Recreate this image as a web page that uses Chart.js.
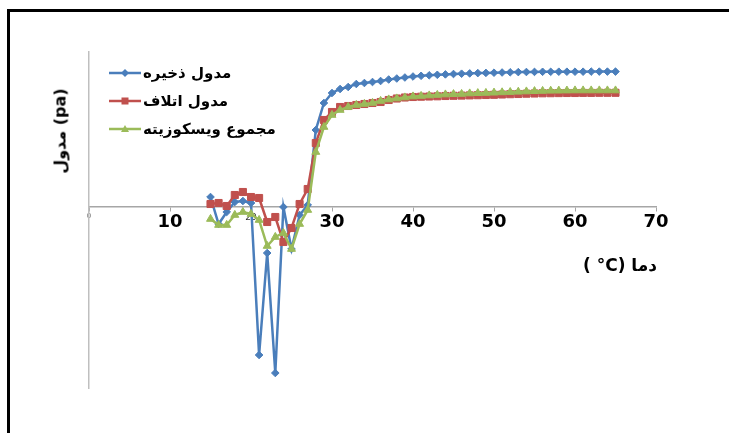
<!DOCTYPE html>
<html>
<head>
<meta charset="utf-8">
<script src="https://cdn.jsdelivr.net/npm/chart.js@4.4.1/dist/chart.umd.min.js"></script>
<style>
  html, body { margin: 0; padding: 0; background: #fff; }
  #wrap { position: relative; width: 729px; height: 433px; overflow: hidden; background: #fff; }
  #frameTop { position: absolute; left: 7px; top: 9px; width: 722px; height: 3px; background: #000; }
  #frameLeft { position: absolute; left: 7px; top: 9px; width: 3px; height: 424px; background: #000; }
  canvas { position: absolute; left: 0; top: 0; }
  .t { position: absolute; font-family: 'DejaVu Sans'; font-weight: bold; font-size: 16px; color: #000; white-space: nowrap; }
  .sw { position: absolute; }
</style>
</head>
<body>
<div id="wrap">
  <div id="frameTop"></div>
  <div id="frameLeft"></div>
  <canvas id="c" width="729" height="433"></canvas>
</div>
<script>
// ---- data ----
const temps = [15,16,17,18,19,20,21,22,23,24,25,26,27,28,29,30,31,32,33,34,35,36,37,38,39,40,
               41,42,43,44,45,46,47,48,49,50,51,52,53,54,55,56,57,58,59,60,61,62,63,64,65];
const storageModulus = [100,-170,-50,50,60,40,-1480,-460,-1660,0,-420,-80,20,770,1040,1140,1180,1200,1230,1240,1250,1260,1275,1285,1295,1305,
               1312,1317,1322,1326,1330,1333,1336,1339,1341,1343,1345,1347,1349,1350,1351,1352,1352,1353,1353,1353,1353,1354,1354,1354,1354];
const lossModulus = [30,40,10,120,150,100,90,-150,-100,-350,-210,30,180,640,870,950,1000,1010,1020,1030,1040,1050,1070,1085,1095,1100,
               1103,1105,1107,1110,1112,1114,1116,1118,1120,1122,1125,1128,1130,1133,1135,1137,1138,1139,1140,1140,1141,1141,1142,1142,1142];
const viscositySum = [-120,-180,-180,-80,-50,-70,-130,-390,-300,-260,-420,-170,-30,550,800,920,970,1000,1020,1030,1040,1060,1075,1085,1095,1105,
               1110,1115,1120,1125,1128,1130,1135,1138,1140,1143,1146,1149,1152,1155,1158,1160,1162,1163,1164,1165,1165,1165,1165,1165,1165];
const seriesLabels = ["مدول ذخیره", "مدول اتلاف", "مجموع ویسکوزیته"];
const xTickValues = [0,10,20,30,40,50,60,70];
const xTitle = "( °C) دما";
const yTitle = "مدول (pa)";

const colors = ["#4A7EBB", "#C0504D", "#9BBB59"];
const markers = ["rectRot", "rect", "triangle"];
const radii = [3.8, 5, 4.6];
const seriesData = [storageModulus, lossModulus, viscositySum];

const datasets = seriesData.map((arr, k) => ({
  label: seriesLabels[k],
  data: temps.map((t, i) => ({ x: t, y: arr[i] })),
  borderColor: colors[k],
  backgroundColor: colors[k],
  pointBackgroundColor: colors[k],
  pointBorderColor: colors[k],
  pointStyle: markers[k],
  pointRadius: radii[k],
  pointBorderWidth: 1,
  borderWidth: 2.5,
  tension: 0,
  order: 3 - k
}));

new Chart(document.getElementById('c'), {
  type: 'line',
  data: { datasets },
  options: {
    responsive: false,
    animation: false,
    devicePixelRatio: 1,
    layout: { padding: { left: 89, right: 73, top: 52, bottom: 45 } },
    plugins: { legend: { display: false }, tooltip: { enabled: false } },
    scales: {
      x: {
        type: 'linear',
        position: { y: 0 },
        min: 0, max: 70,
        afterBuildTicks: s => { s.ticks = xTickValues.map(v => ({ value: v })); },
        grid: { display: true, drawOnChartArea: false, drawTicks: true, tickLength: 4, color: '#A6A6A6', lineWidth: 1 },
        border: { display: true, color: '#A6A6A6', width: 1.5 },
        ticks: {
          padding: 1,
          maxRotation: 0,
          autoSkip: false,
          color: ctx => (ctx.tick && ctx.tick.value === 0) ? '#777' : (ctx.tick && ctx.tick.value === 20 ? '#333' : '#000'),
          font: ctx => {
            const v = ctx.tick ? ctx.tick.value : null;
            if (v === 0) return { family: 'DejaVu Sans', size: 7 };
            if (v === 20) return { family: 'DejaVu Sans', size: 9 };
            return { family: 'DejaVu Sans', size: 18, weight: 'bold' };
          }
        }
      },
      y: {
        type: 'linear',
        position: 'left',
        min: -1810, max: 1550,
        afterFit: s => { s.width = 0; },
        grid: { display: false },
        border: { display: true, color: '#BFBFBF', width: 1.5 },
        ticks: { display: false }
      }
    }
  }
});

// HTML legend and titles (real text)
const wrap = document.getElementById('wrap');
seriesLabels.forEach((lab, k) => {
  const cy = 72 + 28 * k;
  const sw = document.createElement('div');
  sw.className = 'sw';
  sw.style.left = '108px';
  sw.style.top = (cy - 6) + 'px';
  let mk = '';
  if (k === 0) mk = '<polygon points="17,3 21,7 17,11 13,7" fill="' + colors[0] + '"/>';
  if (k === 1) mk = '<rect x="13.5" y="3.5" width="7" height="7" fill="' + colors[1] + '"/>';
  if (k === 2) mk = '<polygon points="17,3 21,10 13,10" fill="' + colors[2] + '"/>';
  sw.innerHTML = '<svg width="34" height="14" viewBox="0 0 34 14"><line x1="1" y1="7" x2="33" y2="7" stroke="' + colors[k] + '" stroke-width="2.5"/>' + mk + '</svg>';
  wrap.appendChild(sw);
  const t = document.createElement('div');
  t.className = 't';
  t.style.left = '143px';
  t.style.top = (cy - 8) + 'px';
  t.style.fontSize = '15px';
  t.textContent = lab;
  wrap.appendChild(t);
});
const yt = document.createElement('div');
yt.className = 't';
yt.style.left = '60px';
yt.style.top = '131px';
yt.style.transform = 'translate(-50%, -50%) rotate(-90deg)';
yt.textContent = yTitle;
wrap.appendChild(yt);
const xt = document.createElement('div');
xt.className = 't';
xt.style.right = '72px';
xt.style.top = '255px';
xt.style.fontSize = '17px';
xt.textContent = xTitle;
wrap.appendChild(xt);
</script>
</body>
</html>
